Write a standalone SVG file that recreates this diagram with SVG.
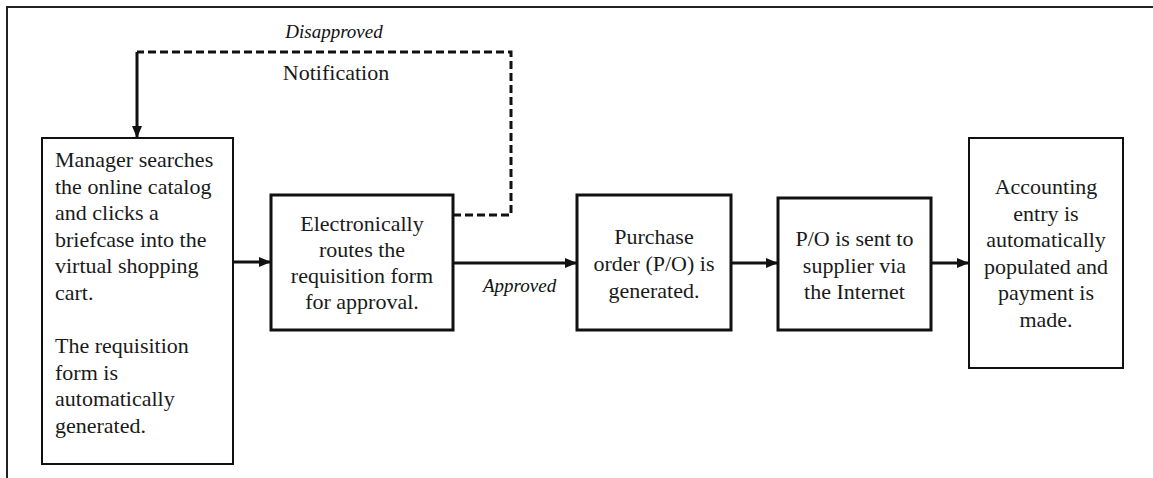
<svg xmlns="http://www.w3.org/2000/svg" width="1153" height="478" viewBox="0 0 1153 478">
  <style>
    .box { fill: #ffffff; stroke: #111111; }
    .thin { stroke-width: 2; }
    .thick { stroke-width: 3; }
    .t { font-family: "Liberation Serif", "Times New Roman", serif; font-size: 22px; fill: #1a1a1a; }
    .c { text-anchor: middle; }
    .lbl { font-family: "Liberation Serif", "Times New Roman", serif; font-size: 19px; font-style: italic; fill: #111111; }
    .flow { fill: none; stroke: #111111; stroke-width: 3; }
    .dash { fill: none; stroke: #111111; stroke-width: 3; stroke-dasharray: 8 4; }
  </style>
  <defs>
    <marker id="arrow" viewBox="0 0 12 10" refX="12" refY="5" markerWidth="12" markerHeight="10" markerUnits="userSpaceOnUse" orient="auto">
      <path d="M0,0 L12,5 L0,10 z" fill="#111111"/>
    </marker>
  </defs>

  <rect width="1153" height="478" fill="#ffffff"/>

  <!-- page frame: top and left rules -->
  <path d="M7,478 V7 H1153" fill="none" stroke="#222222" stroke-width="2"/>

  <!-- connectors -->
  <g id="connectors">
    <line class="flow" x1="233" y1="262" x2="271" y2="262" marker-end="url(#arrow)"/>
    <line class="flow" x1="453" y1="263" x2="577" y2="263" marker-end="url(#arrow)"/>
    <line class="flow" x1="731" y1="263" x2="778" y2="263" marker-end="url(#arrow)"/>
    <line class="flow" x1="931" y1="263" x2="969" y2="263" marker-end="url(#arrow)"/>
    <!-- disapproval loop back to the manager -->
    <path class="dash" d="M453,215 H511 V52 H137"/>
    <path class="flow" d="M137,52 V138" marker-end="url(#arrow)"/>
    <text class="lbl c" x="334" y="38">Disapproved</text>
    <text class="t c" x="336" y="80">Notification</text>
    <text class="lbl" x="483" y="292">Approved</text>
  </g>

  <!-- step 1: requisition -->
  <g id="node-requisition">
    <rect class="box thin" x="42" y="138" width="191" height="326"/>
    <text class="t" x="55" y="167">Manager searches</text>
    <text class="t" x="55" y="193.6">the online catalog</text>
    <text class="t" x="55" y="220.2">and clicks a</text>
    <text class="t" x="55" y="246.8">briefcase into the</text>
    <text class="t" x="55" y="273.4">virtual shopping</text>
    <text class="t" x="55" y="300">cart.</text>
    <text class="t" x="55" y="353.2">The requisition</text>
    <text class="t" x="55" y="379.8">form is</text>
    <text class="t" x="55" y="406.4">automatically</text>
    <text class="t" x="55" y="433">generated.</text>
  </g>

  <!-- step 2: routing for approval -->
  <g id="node-routing">
    <rect class="box thick" x="271" y="195" width="182" height="135"/>
    <text class="t c" x="362" y="231">Electronically</text>
    <text class="t c" x="362" y="257">routes the</text>
    <text class="t c" x="362" y="283">requisition form</text>
    <text class="t c" x="362" y="309">for approval.</text>
  </g>

  <!-- step 3: purchase order -->
  <g id="node-purchase-order">
    <rect class="box thick" x="577" y="195" width="154" height="135"/>
    <text class="t c" x="654" y="244">Purchase</text>
    <text class="t c" x="654" y="271">order (P/O) is</text>
    <text class="t c" x="654" y="298">generated.</text>
  </g>

  <!-- step 4: send to supplier -->
  <g id="node-send">
    <rect class="box thick" x="778" y="198" width="153" height="132"/>
    <text class="t c" x="854.5" y="246">P/O is sent to</text>
    <text class="t c" x="854.5" y="272.5">supplier via</text>
    <text class="t c" x="854.5" y="299">the Internet</text>
  </g>

  <!-- step 5: accounting -->
  <g id="node-accounting">
    <rect class="box thin" x="969" y="138" width="154" height="230"/>
    <text class="t c" x="1046" y="194">Accounting</text>
    <text class="t c" x="1046" y="220.6">entry is</text>
    <text class="t c" x="1046" y="247.2">automatically</text>
    <text class="t c" x="1046" y="273.8">populated and</text>
    <text class="t c" x="1046" y="300.4">payment is</text>
    <text class="t c" x="1046" y="327">made.</text>
  </g>
</svg>
